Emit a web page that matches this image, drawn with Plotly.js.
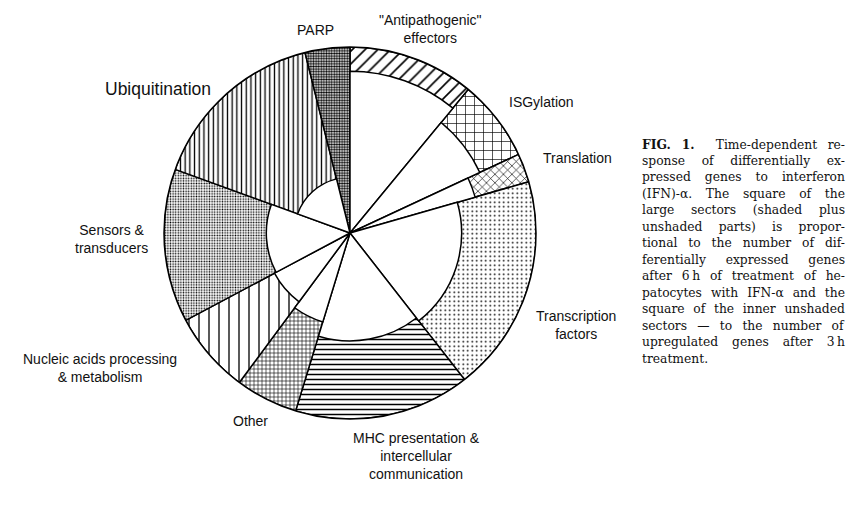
<!DOCTYPE html>
<html>
<head>
<meta charset="utf-8">
<script src="https://cdn.plot.ly/plotly-3.0.1.min.js"></script>
<style>html,body{margin:0;padding:0;background:#fff;}#chart{width:859px;height:516px;}</style>
</head>
<body>
<div id="chart"></div>
<script>
// Sectors, clockwise from 12 o'clock
const categories = ['"Antipathogenic" effectors', 'ISGylation', 'Translation', 'Transcription factors',
  'MHC presentation & intercellular communication', 'Other', 'Nucleic acids processing & metabolism',
  'Sensors & transducers', 'Ubiquitination', 'PARP'];
// angular size of each large sector (degrees) – proportional to genes after 6 h
const sectorAngle = [39.5, 25.5, 9, 68, 55, 19.5, 25.5, 48, 56, 14];
// outer radius of large sectors (relative)
const outerRadius = [1, 1, 1, 1, 1, 1, 1, 1, 1, 1];
// radius of inner unshaded sectors (relative) – upregulated genes after 3 h
const innerRadius = [0.87, 0.77, 0.70, 0.60, 0.58, 0.50, 0.46, 0.45, 0.30, 0.0];

const patShape = ['/', '+', 'x', '.', '-', '+', '|', '.', '|', '.'];
const patSize = [9, 9, 6, 4.5, 5, 4, 10, 2.6, 4.7, 2.6];
const patSolid = [0.18, 0.14, 0.2, 0.12, 0.3, 0.28, 0.13, 0.3, 0.28, 0.55];

const sectorLabels = ['"Antipathogenic"<br>effectors', 'ISGylation', 'Translation', 'Transcription<br>factors',
  'MHC presentation &<br>intercellular<br>communication', 'Other', 'Nucleic acids processing<br>& metabolism',
  'Sensors &<br>transducers', 'Ubiquitination', 'PARP'];

const captionLines = ['<b>FIG. 1.</b>\u00a0\u00a0Time-dependent re-', 'sponse of differentially ex-', 'pressed genes to interferon',
  '(IFN)-α. The square of the', 'large sectors (shaded plus', 'unshaded parts) is propor-',
  'tional to the number of dif-', 'ferentially expressed genes', 'after 6\u2009h of treatment of he-',
  'patocytes with IFN-α and the', 'square of the inner unshaded', 'sectors — to the number of',
  'upregulated genes after 3\u2009h', 'treatment.'];

// centre angles from cumulative sizes
const theta = [];
let acc = 0;
sectorAngle.forEach(a => { theta.push(acc + a / 2); acc += a; });

const outer = {
  type: 'barpolar', r: outerRadius, theta: theta, width: sectorAngle, text: categories,
  hoverinfo: 'text',
  marker: {
    color: 'white',
    line: {color: 'black', width: 1.5},
    pattern: {shape: patShape, size: patSize, solidity: patSolid, fgcolor: 'black', bgcolor: 'white', fillmode: 'replace'}
  }
};
const inner = {
  type: 'barpolar', r: innerRadius, theta: theta, width: sectorAngle, text: categories,
  hoverinfo: 'text',
  marker: {color: 'white', line: {color: 'black', width: 1.5}}
};

const W = 859, H = 516;
const px = (x) => x / W, py = (y) => 1 - y / H;
const labelFont = {family: 'Liberation Sans, Arial, sans-serif', size: 14, color: '#111'};
const labelPos = [[430, 29], [541, 102], [577, 158], [576, 325], [416, 456], [250, 421], [100, 368], [112, 239], [158, 89], [315, 30]];
const annotations = sectorLabels.map((t, i) => ({
  text: t, xref: 'paper', yref: 'paper', x: px(labelPos[i][0]), y: py(labelPos[i][1]),
  xanchor: 'center', yanchor: 'middle', showarrow: false, align: 'center',
  font: Object.assign({}, labelFont, i === 8 ? {size: 17.5} : {})
}));
const capStart = annotations.length;
const capLeft = 640, capWidth = 203;
captionLines.forEach((t, i) => annotations.push({
  text: t, xref: 'paper', yref: 'paper', x: px(capLeft), y: py(144 + i * 16.5),
  xanchor: 'left', yanchor: 'middle', showarrow: false, align: 'left',
  font: {family: 'DejaVu Serif, serif', size: 12.3, color: '#111'}
}));

const layout = {
  width: W, height: H, margin: {l: 0, r: 0, t: 0, b: 0},
  paper_bgcolor: 'white', showlegend: false,
  polar: {
    domain: {x: [px(350 - 186), px(350 + 186)], y: [py(233 + 186), py(233 - 186)]},
    barmode: 'overlay', bgcolor: 'white', hole: 0,
    angularaxis: {rotation: 90, direction: 'clockwise', showgrid: false, showticklabels: false, ticks: '',
      showline: true, linecolor: 'black', linewidth: 1.5},
    radialaxis: {visible: false, range: [0, 1]}
  },
  annotations: annotations
};
Plotly.newPlot('chart', [outer, inner], layout, {displayModeBar: false, staticPlot: true}).then(() => {
  // justify caption lines (all but the last) by widening word spacing
  document.querySelectorAll('#chart .annotation').forEach(g => {
    const idx = +g.getAttribute('data-index');
    if (idx < capStart || idx >= capStart + captionLines.length - 1) return;
    const txt = g.querySelector('text.annotation-text');
    if (!txt) return;
    const w = txt.getBBox().width;
    const spaces = (txt.textContent.match(/[ \u00a0]/g) || []).length;
    if (spaces > 0 && w < capWidth) {
      txt.style.wordSpacing = ((capWidth - w) / spaces) + 'px';
    }
  });
});
</script>
</body>
</html>
